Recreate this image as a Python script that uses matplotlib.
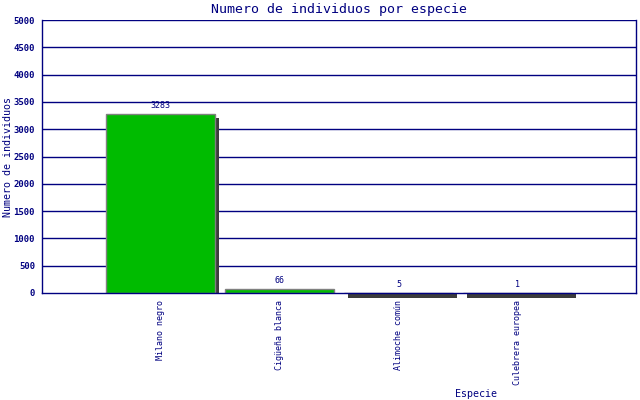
import matplotlib
matplotlib.use("Agg")
import matplotlib.pyplot as plt
import matplotlib.transforms as mtransforms
from matplotlib.patches import Rectangle

categories = ["Milano negro", "Cigüeña blanca", "Alimoche común", "Culebrera europea"]
values = [3283, 66, 5, 1]
yticks = [0, 500, 1000, 1500, 2000, 2500, 3000, 3500, 4000, 4500, 5000]

NAVY = "#000080"
GREEN = "#00bb00"
SHADOW = "#3c3c3c"
MONO = "DejaVu Sans Mono"

fig = plt.figure(figsize=(6.4, 4.0), dpi=100)
ax = fig.add_axes([42/640, 1-293/400, 594/640, 273/400])
ax.set_xlim(0, len(categories) + 1)
ax.set_ylim(0, 5000)

px = 1.0 / fig.dpi
pos = list(range(1, len(categories) + 1))
width = 0.92

for y in yticks[1:]:
    ax.axhline(y, color=NAVY, lw=1.0, zorder=1)

shadow_off = mtransforms.ScaledTranslation(4*px, -4*px, fig.dpi_scale_trans)
fig.canvas.draw()
for x, v in zip(pos, values):
    hpix = ax.transData.transform((0, v))[1] - ax.transData.transform((0, 0))[1]
    if hpix >= 1:
        ax.bar(x, v, width=width, color=SHADOW, linewidth=0,
               transform=ax.transData + shadow_off, zorder=2)
    else:
        strip = mtransforms.blended_transform_factory(ax.transData, ax.transAxes) + \
            mtransforms.ScaledTranslation(4*px, -5*px, fig.dpi_scale_trans)
        r = Rectangle((x - width/2, 0), width, 5/273, transform=strip,
                      facecolor=SHADOW, edgecolor="none", clip_on=False, zorder=2)
        ax.add_patch(r)

ax.bar(pos, values, width=width, color=GREEN, edgecolor="#808080", linewidth=1.0, zorder=3)

for x, v in zip(pos, values):
    ax.annotate(str(v), (x, v), xytext=(0, 4), textcoords="offset pixels",
                ha="center", va="bottom", color=NAVY, fontsize=6, family=MONO)

for s in ["left", "bottom", "right"]:
    ax.spines[s].set_color(NAVY)
    ax.spines[s].set_linewidth(1.0)
ax.spines["top"].set_visible(False)
ax.spines["bottom"].set_zorder(5)

ax.set_yticks(yticks)
ax.set_yticklabels([str(t) for t in yticks], fontsize=6.5, family=MONO,
                   fontweight="bold", color=NAVY)
ax.tick_params(axis="y", length=0, pad=5)
ax.set_xticks(pos)
ax.set_xticklabels(categories, rotation=90, fontsize=6, family=MONO, color=NAVY)
ax.tick_params(axis="x", length=0, pad=5)

fig.text(339/640, 1-9/400, "Numero de individuos por especie", ha="center", va="center",
         fontsize=9.5, family=MONO, color=NAVY)
fig.text(8/640, 1-157/400, "Numero de individuos", rotation=90, ha="center", va="center",
         fontsize=7.2, family=MONO, color=NAVY)
fig.text(476/640, 1-394/400, "Especie", ha="center", va="center",
         fontsize=7.2, family=MONO, color=NAVY)

fig.savefig("out.png", dpi=100, facecolor="white")
